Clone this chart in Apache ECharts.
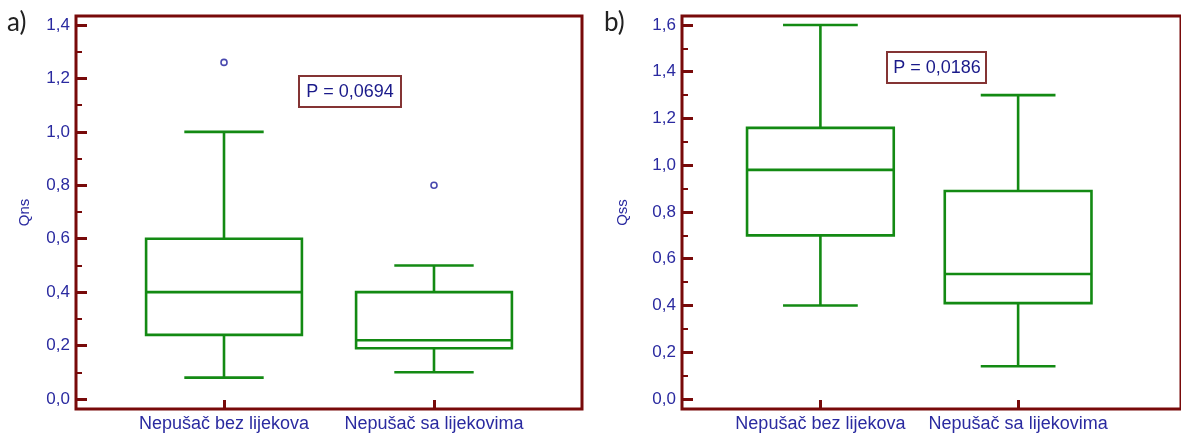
<!DOCTYPE html>
<html><head><meta charset="utf-8">
<script src="https://cdn.jsdelivr.net/npm/echarts@6/dist/echarts.min.js"></script>
<style>html,body{margin:0;padding:0;background:#fff}#c{width:1181px;height:433px}</style>
</head><body><div id="c"></div>
<script>
// ---- data ----
const categories = ['Nepušač bez lijekova', 'Nepušač sa lijekovima'];
// each box: [lower whisker, Q1, median, Q3, upper whisker]
const boxQns = [[0.08, 0.24, 0.40, 0.60, 1.00], [0.10, 0.19, 0.22, 0.40, 0.50]];
const outliersQns = [[1, 1.26], [2, 0.80]];
const boxQss = [[0.40, 0.70, 0.98, 1.16, 1.60], [0.14, 0.41, 0.535, 0.89, 1.30]];
const outliersQss = [];
const yMajorQns = [0, 0.2, 0.4, 0.6, 0.8, 1.0, 1.2, 1.4];
const yMinorQns = [0.1, 0.3, 0.5, 0.7, 0.9, 1.1, 1.3];
const yMajorQss = [0, 0.2, 0.4, 0.6, 0.8, 1.0, 1.2, 1.4, 1.6];
const yMinorQss = [0.1, 0.3, 0.5, 0.7, 0.9, 1.1, 1.3, 1.5];
const pValues = ['P = 0,0694', 'P = 0,0186'];
const panelLabels = ['a)', 'b)'];
const axisNames = ['Qns', 'Qss'];

// ---- style ----
const FRAME = '#780a0a';
const GREEN = '#138a13';
const BLUE = '#2a2aa0';
const BOX_HALF = 0.371;
const CAP_HALF = 0.189;
const FONT = '"Liberation Sans", Arial, sans-serif';

const panels = [
  { grid: { left: 76, top: 16, width: 506, height: 393 }, x: [0.2952, 2.7048], y: [-0.0374, 1.4337],
    major: yMajorQns, minor: yMinorQns, box: boxQns, out: outliersQns, nameGap: 44 },
  { grid: { left: 682, top: 16, width: 530, height: 393 }, x: [0.3, 2.8238], y: [-0.0428, 1.6385],
    major: yMajorQss, minor: yMinorQss, box: boxQss, out: outliersQss, nameGap: 52 }
];

const fmt = v => v.toFixed(1).replace('.', ',');

function renderBox(params, api) {
  const x = api.value(0);
  const lo = api.value(1), q1 = api.value(2), md = api.value(3), q3 = api.value(4), hi = api.value(5);
  const c = (a, b) => api.coord([a, b]);
  const st = { stroke: GREEN, lineWidth: 2.6, fill: null };
  const line = (a, b) => ({ type: 'line', shape: { x1: a[0], y1: a[1], x2: b[0], y2: b[1] }, style: st });
  const tl = c(x - BOX_HALF, q3), br = c(x + BOX_HALF, q1);
  return {
    type: 'group',
    children: [
      { type: 'rect', shape: { x: tl[0], y: tl[1], width: br[0] - tl[0], height: br[1] - tl[1] }, style: st },
      line(c(x - BOX_HALF, md), c(x + BOX_HALF, md)),
      line(c(x, q3), c(x, hi)),
      line(c(x, q1), c(x, lo)),
      line(c(x - CAP_HALF, hi), c(x + CAP_HALF, hi)),
      line(c(x - CAP_HALF, lo), c(x + CAP_HALF, lo))
    ]
  };
}

const grid = [], xAxis = [], yAxis = [], series = [];
panels.forEach((p, i) => {
  grid.push(Object.assign({ show: true, borderColor: FRAME, borderWidth: 3, backgroundColor: 'transparent' }, p.grid));
  xAxis.push({
    gridIndex: i, type: 'value', min: p.x[0], max: p.x[1], position: 'bottom',
    axisLine: { show: false, onZero: false }, splitLine: { show: false },
    axisTick: { show: true, inside: true, length: 9, customValues: [1, 2], lineStyle: { color: FRAME, width: 3 } },
    axisLabel: { customValues: [1, 2], formatter: v => categories[Math.round(v) - 1], color: BLUE,
      fontSize: 18, fontFamily: FONT, margin: 6 }
  });
  yAxis.push({
    gridIndex: i, type: 'value', min: p.y[0], max: p.y[1], position: 'left',
    name: axisNames[i], nameLocation: 'middle', nameGap: p.nameGap,
    nameTextStyle: { color: BLUE, fontSize: 15, fontFamily: FONT },
    axisLine: { show: false, onZero: false }, splitLine: { show: false },
    axisTick: { show: true, inside: true, length: 11, customValues: p.major, lineStyle: { color: FRAME, width: 3 } },
    axisLabel: { customValues: p.major, formatter: fmt, color: BLUE, fontSize: 17, fontFamily: FONT, margin: 6 }
  });
  yAxis.push({
    gridIndex: i, type: 'value', min: p.y[0], max: p.y[1], position: 'left', offset: 0,
    axisLine: { show: false, onZero: false }, splitLine: { show: false }, axisLabel: { show: false },
    axisTick: { show: true, inside: true, length: 6, customValues: p.minor, lineStyle: { color: FRAME, width: 2 } }
  });
  series.push({
    type: 'custom', xAxisIndex: i, yAxisIndex: i * 2, renderItem: renderBox,
    encode: { x: 0, y: [1, 2, 3, 4, 5] },
    data: p.box.map((b, k) => [k + 1].concat(b)), silent: true
  });
  series.push({
    type: 'scatter', xAxisIndex: i, yAxisIndex: i * 2, symbol: 'circle', symbolSize: 6,
    itemStyle: { color: '#fff', borderColor: '#1a1a9a', borderWidth: 1.6 },
    data: p.out, silent: true
  });
});

const graphic = [
  { type: 'text', left: 7, top: 10, style: { text: panelLabels[0], font: '26px Lato, "Open Sans", sans-serif', fill: '#222' } },
  { type: 'text', left: 604, top: 10, style: { text: panelLabels[1], font: '26px Lato, "Open Sans", sans-serif', fill: '#222' } },
  { type: 'group', left: 298, top: 75, children: [
    { type: 'rect', shape: { x: 0, y: 0, width: 102, height: 31 }, style: { fill: '#fff', stroke: '#843434', lineWidth: 2 } },
    { type: 'text', x: 51, y: 16, style: { text: pValues[0], font: '18px ' + FONT, fill: '#1a1a8a', align: 'center', verticalAlign: 'middle' } }
  ] },
  { type: 'group', left: 886, top: 51, children: [
    { type: 'rect', shape: { x: 0, y: 0, width: 99, height: 31 }, style: { fill: '#fff', stroke: '#843434', lineWidth: 2 } },
    { type: 'text', x: 50, y: 16, style: { text: pValues[1], font: '18px ' + FONT, fill: '#1a1a8a', align: 'center', verticalAlign: 'middle' } }
  ] }
];

const chart = echarts.init(document.getElementById('c'), null, { renderer: 'canvas' });
chart.setOption({ animation: false, backgroundColor: '#fff', grid, xAxis, yAxis, series, graphic });
</script></body></html>
